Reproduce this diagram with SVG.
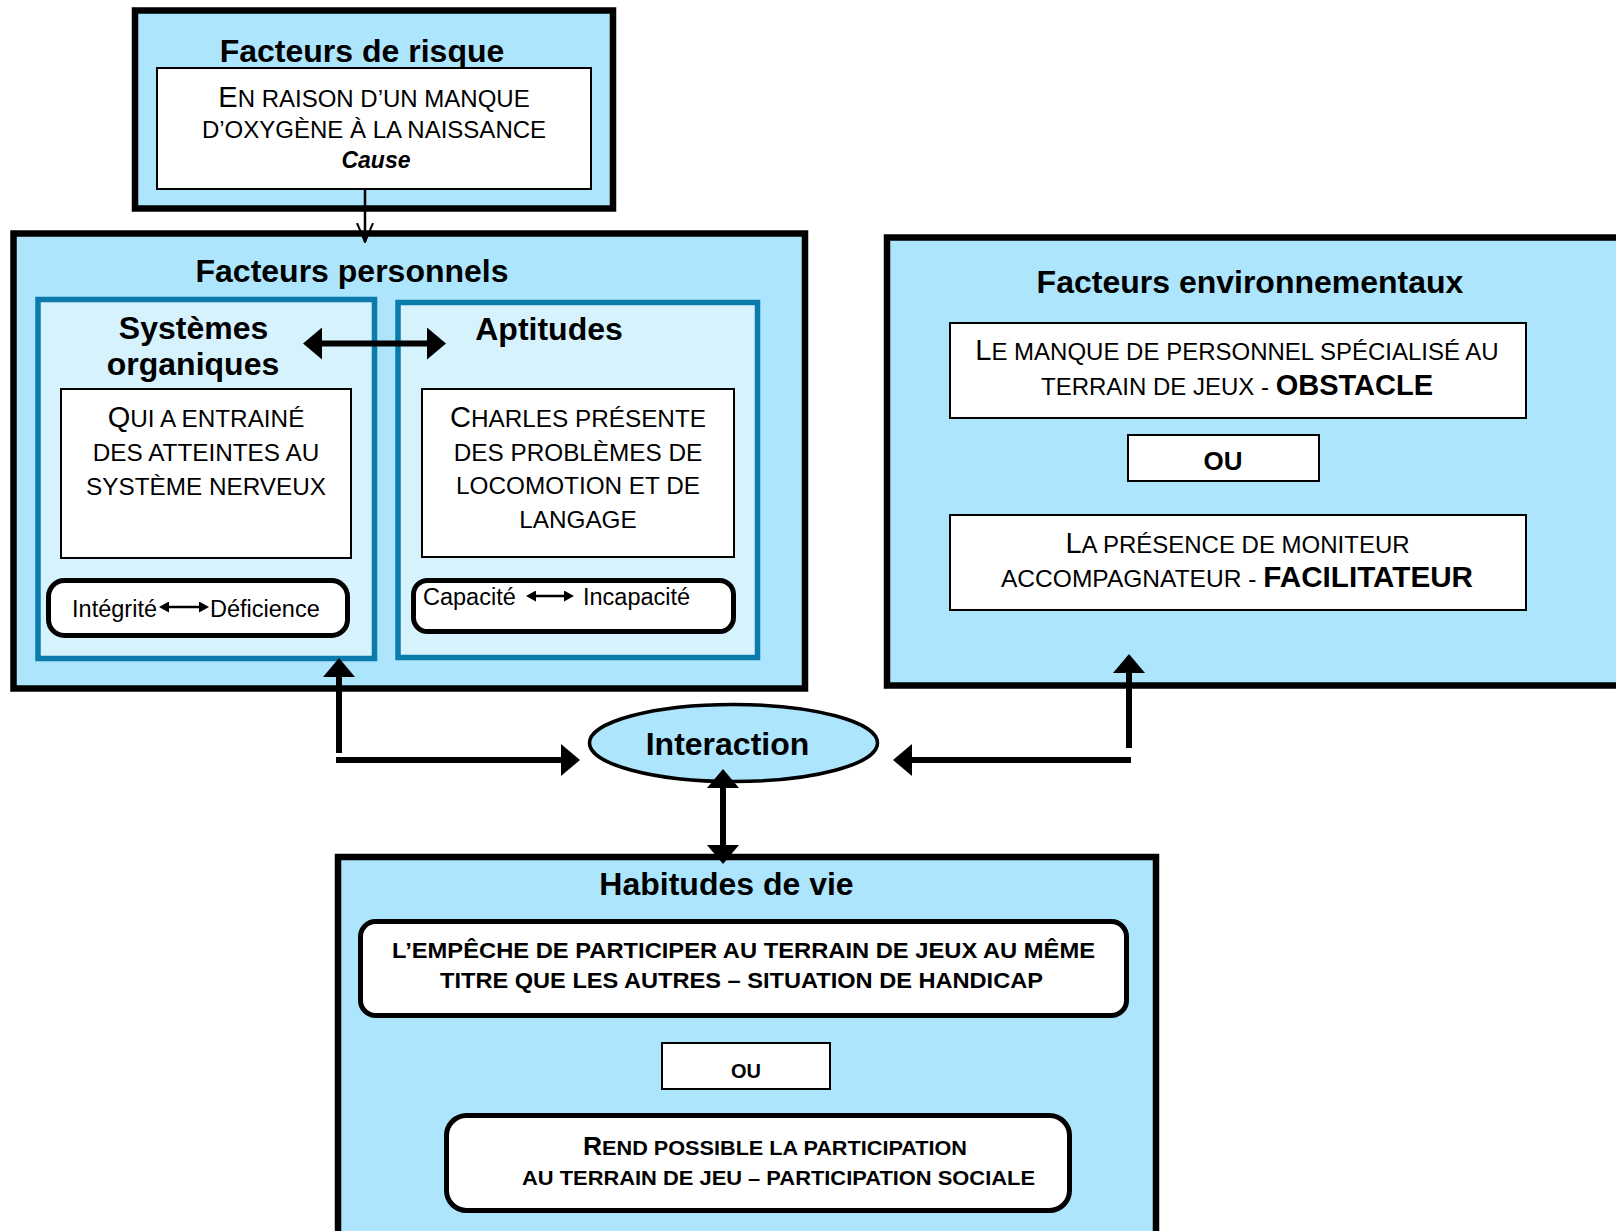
<svg xmlns="http://www.w3.org/2000/svg" width="1616" height="1231" viewBox="0 0 1616 1231">
<style>
  text { font-family: "Liberation Sans", Arial, sans-serif; fill: #000; }
  .title { font-size: 32px; font-weight: bold; text-anchor: middle; }
  .outer { fill: #ACE5FC; stroke: #000; stroke-width: 6.5; }
  .inner { fill: #D5F2FD; stroke: #0A7BAB; stroke-width: 5.5; }
  .white { fill: #fff; stroke: #000; stroke-width: 2; }
  .pill { fill: #fff; stroke: #000; stroke-width: 5; }
  .sc { font-size: 24px; text-anchor: middle; }
  .sc2 { font-size: 24.3px; text-anchor: middle; }
  .big { font-size: 29px; }
  .reg { font-size: 23.5px; }
  .bold { font-weight: bold; }
  .thick { stroke: #000; stroke-width: 6; fill: none; }
  .thin { stroke: #000; stroke-width: 2.5; fill: none; }
</style>
<defs>
  <marker id="ah" viewBox="0 0 19 32" refX="0" refY="16" markerWidth="19" markerHeight="32" markerUnits="userSpaceOnUse" orient="auto-start-reverse">
    <path d="M0,0 L19,16 L0,32 z" fill="#000"/>
  </marker>
  <marker id="sm" viewBox="0 0 10 11" refX="0" refY="5.5" markerWidth="10" markerHeight="11" markerUnits="userSpaceOnUse" orient="auto-start-reverse">
    <path d="M0,0 L10,5.5 L0,11 z" fill="#000"/>
  </marker>
  <marker id="open" viewBox="0 0 20 18" refX="19" refY="9" markerWidth="20" markerHeight="18" markerUnits="userSpaceOnUse" orient="auto">
    <path d="M0,1 L19,9 L0,17" fill="none" stroke="#000" stroke-width="2"/>
  </marker>
</defs>

<g id="facteurs-risque">
  <rect class="outer" x="135" y="10.5" width="478" height="198"/>
  <text class="title" x="362" y="62">Facteurs de risque</text>
  <rect class="white" x="157" y="68" width="434" height="121"/>
  <text class="sc" x="374" y="107"><tspan class="big">E</tspan>N RAISON D’UN MANQUE</text>
  <text class="sc" x="374" y="138">D’OXYGÈNE À LA NAISSANCE</text>
  <text x="376" y="168" style="font-size:23px;font-weight:bold;font-style:italic;text-anchor:middle">Cause</text>
</g>

<g id="facteurs-personnels">
  <rect class="outer" x="13.5" y="233.5" width="791.5" height="455"/>
  <text class="title" x="352" y="282">Facteurs personnels</text>
</g>

<g id="systemes-organiques">
  <rect class="inner" x="38" y="299.5" width="336.5" height="359"/>
  <text class="title" x="193.5" y="339">Systèmes</text>
  <text class="title" x="193" y="375">organiques</text>
  <rect class="white" x="61" y="389" width="290" height="169"/>
  <text class="sc2" x="206" y="427"><tspan class="big">Q</tspan>UI A ENTRAINÉ</text>
  <text class="sc2" x="206" y="461">DES ATTEINTES AU</text>
  <text class="sc2" x="206" y="495">SYSTÈME NERVEUX</text>
  <rect class="pill" x="48.5" y="580.5" width="299" height="55" rx="16"/>
  <text class="reg" x="157" y="617" text-anchor="end">Intégrité</text>
  <line class="thin" x1="169" y1="607" x2="199" y2="607" marker-start="url(#sm)" marker-end="url(#sm)"/>
  <text class="reg" x="210" y="617">Déficience</text>
</g>

<g id="aptitudes">
  <rect class="inner" x="398" y="302.5" width="359.5" height="355"/>
  <text class="title" x="549" y="340">Aptitudes</text>
  <rect class="white" x="422" y="389" width="312" height="168"/>
  <text class="sc2" x="578" y="427"><tspan class="big">C</tspan>HARLES PRÉSENTE</text>
  <text class="sc2" x="578" y="461">DES PROBLÈMES DE</text>
  <text class="sc2" x="578" y="494">LOCOMOTION ET DE</text>
  <text class="sc2" x="578" y="528">LANGAGE</text>
  <rect class="pill" x="413.5" y="580.5" width="320" height="51" rx="14"/>
  <text class="reg" x="423" y="605">Capacité</text>
  <line class="thin" x1="536" y1="596" x2="564" y2="596" marker-start="url(#sm)" marker-end="url(#sm)"/>
  <text class="reg" x="583" y="605">Incapacité</text>
</g>

<g id="facteurs-environnementaux">
  <rect class="outer" x="887" y="237.5" width="740" height="448"/>
  <text class="title" x="1250" y="293">Facteurs environnementaux</text>
  <rect class="white" x="950" y="323" width="576" height="95"/>
  <text class="sc" x="1237" y="360"><tspan class="big">L</tspan>E MANQUE DE PERSONNEL SPÉCIALISÉ AU</text>
  <text class="sc" x="1237" y="395">TERRAIN DE JEUX - <tspan class="big bold">OBSTACLE</tspan></text>
  <rect class="white" x="1128" y="435" width="191" height="46"/>
  <text x="1223" y="470" style="font-size:26px;font-weight:bold;text-anchor:middle">OU</text>
  <rect class="white" x="950" y="515" width="576" height="95"/>
  <text class="sc" x="1237.5" y="553"><tspan class="big">L</tspan>A PRÉSENCE DE MONITEUR</text>
  <text class="sc" x="1237" y="587" textLength="472" lengthAdjust="spacingAndGlyphs">ACCOMPAGNATEUR - <tspan class="big bold">FACILITATEUR</tspan></text>
</g>

<g id="interaction">
  <ellipse cx="733.5" cy="743" rx="144" ry="38.5" fill="#ACE5FC" stroke="#000" stroke-width="3.5"/>
  <text class="title" x="727.5" y="755">Interaction</text>
</g>

<g id="habitudes-de-vie">
  <rect class="outer" x="338" y="857" width="818" height="400" stroke-width="7"/>
  <text class="title" x="726.5" y="895">Habitudes de vie</text>
  <rect class="pill" x="360.5" y="921.5" width="766" height="94" rx="15"/>
  <text x="743.5" y="958" style="font-size:22.5px;font-weight:bold;text-anchor:middle" textLength="703" lengthAdjust="spacingAndGlyphs">L’EMPÊCHE DE PARTICIPER AU TERRAIN DE JEUX AU MÊME</text>
  <text x="741.5" y="988" style="font-size:22.5px;font-weight:bold;text-anchor:middle" textLength="603" lengthAdjust="spacingAndGlyphs">TITRE QUE LES AUTRES – SITUATION DE HANDICAP</text>
  <rect class="white" x="662" y="1043" width="168" height="46"/>
  <text x="746" y="1078" style="font-size:20px;font-weight:bold;text-anchor:middle">OU</text>
  <rect class="pill" x="446.5" y="1115.5" width="623" height="95" rx="20"/>
  <text x="775" y="1155" style="font-size:20.5px;font-weight:bold;text-anchor:middle" textLength="384" lengthAdjust="spacingAndGlyphs"><tspan style="font-size:25px">R</tspan>END POSSIBLE LA PARTICIPATION</text>
  <text x="778.5" y="1185" style="font-size:20.5px;font-weight:bold;text-anchor:middle" textLength="513" lengthAdjust="spacingAndGlyphs">AU TERRAIN DE JEU – PARTICIPATION SOCIALE</text>
</g>

<g id="connectors">
  <line class="thin" x1="365" y1="189" x2="365" y2="242" stroke-width="2" marker-end="url(#open)"/>
  <line class="thick" x1="322" y1="343.5" x2="427" y2="343.5" marker-start="url(#ah)" marker-end="url(#ah)"/>
  <line class="thick" x1="339" y1="753" x2="339" y2="677" marker-end="url(#ah)"/>
  <line class="thick" x1="336" y1="760" x2="561" y2="760" marker-end="url(#ah)"/>
  <line class="thick" x1="1131" y1="760" x2="912" y2="760" marker-end="url(#ah)"/>
  <line class="thick" x1="1129" y1="748" x2="1129" y2="673" marker-end="url(#ah)"/>
  <line class="thick" x1="723" y1="788" x2="723" y2="845" marker-start="url(#ah)" marker-end="url(#ah)"/>
</g>
</svg>
